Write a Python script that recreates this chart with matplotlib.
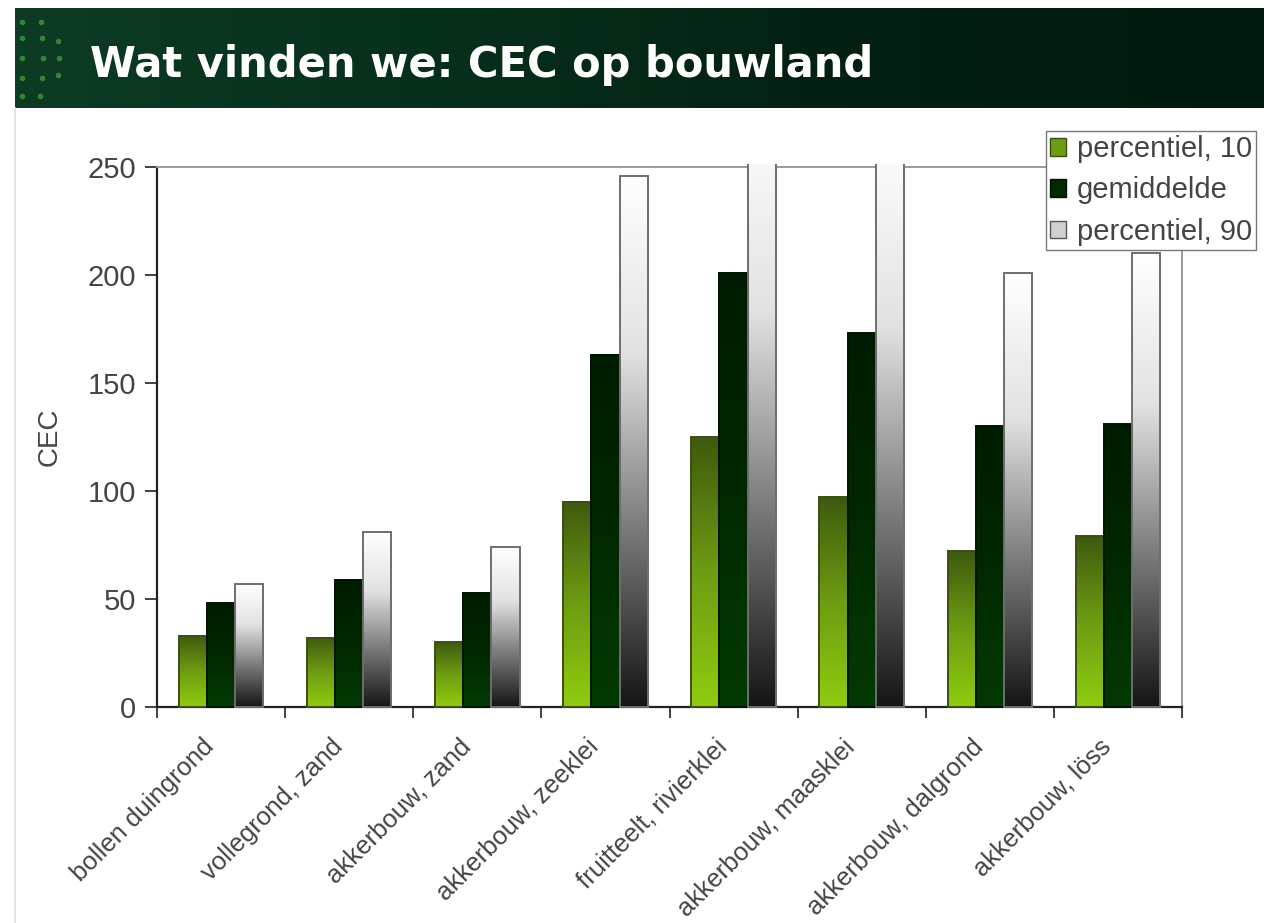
import numpy as np
import matplotlib
matplotlib.use("Agg")
import matplotlib.pyplot as plt
from matplotlib.colors import LinearSegmentedColormap
from matplotlib.patches import Patch
from matplotlib.lines import Line2D
from matplotlib.transforms import ScaledTranslation, Bbox, TransformedBbox


# data
categories = [
    "bollen duingrond",
    "vollegrond, zand",
    "akkerbouw, zand",
    "akkerbouw, zeeklei",
    "fruitteelt, rivierklei",
    "akkerbouw, maasklei",
    "akkerbouw, dalgrond",
    "akkerbouw, löss",
]
p10 = [33, 32, 30, 95, 125, 97, 72, 79]
mean = [48, 59, 53, 163, 201, 173, 130, 131]
p90 = [57, 81, 74, 246, 275, 265, 201, 210]  # two bars run off the top of the axis

series_names = ["percentiel, 10", "gemiddelde", "percentiel, 90"]
y_ticks = [0, 50, 100, 150, 200, 250]

plt.rcParams["font.family"] = ["Liberation Sans", "DejaVu Sans"]

W, H = 1264, 923
fig = plt.figure(figsize=(W / 100, H / 100), dpi=100)
fig.patch.set_facecolor("white")

# header band of the slide
head = fig.add_axes([15 / W, 1 - 108 / H, 1 - 15 / W, 100 / H])
head.axis("off")
band = LinearSegmentedColormap.from_list("band", ["#0d3b24", "#07301c", "#032012", "#021a0e"])
head.imshow(np.linspace(0, 1, 256).reshape(1, -1), cmap=band, aspect="auto",
            extent=[0, 1, 0, 1], origin="lower")
head.set_xlim(0, 1)
head.set_ylim(0, 1)
dot_x = np.array([7, 26, 7, 27, 43, 7, 28, 44, 7, 27, 43, 7, 25]) / (W - 15)
dot_y = 1 - (np.array([14, 14, 30, 30, 33, 50, 50, 50, 70, 70, 67, 88, 88])) / 100
head.scatter(dot_x, dot_y, s=16, color="#3f9a3a", alpha=0.8, linewidths=0)
head.text(75 / (W - 15), 0.43, "Wat vinden we: CEC op bouwland", color="white",
          fontsize=30, fontweight="bold", family=["DejaVu Sans"], va="center", ha="left")

# faint slide border on the left
fig.add_artist(Line2D([15 / W, 15 / W], [0, 1 - 108 / H], color="#dddddd", lw=1.2))

ax = fig.add_axes([157 / W, 1 - 707 / H, (1182 - 157) / W, (707 - 167) / H])

x = np.arange(len(categories))
bw = 0.22

green_map = LinearSegmentedColormap.from_list("g", ["#90cc10", "#6e9c12", "#3e5a0e"])
dark_map = LinearSegmentedColormap.from_list("d", ["#033a03", "#012801", "#001c00"])
grey_map = LinearSegmentedColormap.from_list("w", ["#151515", "#7a7a7a", "#e2e2e2", "#ffffff"])

# bars may poke a hair above 250 so they hide the top frame line, like the slide
clip = TransformedBbox(Bbox([[-0.5, -5], [len(categories) - 0.5, 251.2]]), ax.transData)


def gradient_bars(ax, xs, vals, cmap, edge):
    bars = ax.bar(xs, vals, width=bw, facecolor="none", edgecolor=edge,
                  linewidth=1.4, zorder=3)
    grad = np.linspace(0, 1, 256).reshape(-1, 1)
    for bar in bars:
        bar.set_clip_box(clip)
        x0, y0 = bar.get_xy()
        im = ax.imshow(grad, extent=[x0, x0 + bar.get_width(), y0, y0 + bar.get_height()],
                       origin="lower", aspect="auto", cmap=cmap, zorder=2.9)
        im.set_clip_path(bar)
        im.set_clip_box(clip)
    return bars


gradient_bars(ax, x - bw, p10, green_map, "#3c4e12")
gradient_bars(ax, x, mean, dark_map, "#001400")
gradient_bars(ax, x + bw, p90, grey_map, "#6e6e6e")

ax.set_xlim(-0.5, len(categories) - 0.5)
ax.set_ylim(0, 250)
ax.set_yticks(y_ticks)
ax.set_yticklabels([str(v) for v in y_ticks], fontsize=21, color="#444444")
ax.tick_params(axis="y", direction="out", length=9, width=1.3, color="#333333", pad=6)

ax.set_xticks(np.arange(len(categories) + 1) - 0.5)
ax.set_xticklabels([])
ax.set_xticks(x, minor=True)
ax.set_xticklabels(categories, minor=True, rotation=45, ha="right", va="top",
                   rotation_mode="anchor", fontsize=18.5, color="#444444")
ax.tick_params(axis="x", which="major", direction="out", length=8, width=1.3, color="#333333")
ax.tick_params(axis="x", which="minor", length=0, pad=14)
shift = ScaledTranslation(-0.19, -0.08, fig.dpi_scale_trans)
for lab in ax.get_xticklabels(minor=True):
    lab.set_transform(lab.get_transform() + shift)

ax.set_ylabel("CEC", fontsize=20, color="#444444", labelpad=18)

for side in ["left", "bottom"]:
    ax.spines[side].set_color("#222222")
    ax.spines[side].set_linewidth(1.6)
for side in ["top", "right"]:
    ax.spines[side].set_color("#9a9a9a")
    ax.spines[side].set_linewidth(1.4)

handles = [
    Patch(facecolor="#6e9c12", edgecolor="#3c4e12"),
    Patch(facecolor="#012801", edgecolor="#001400"),
    Patch(facecolor="#d0d0d0", edgecolor="#555555"),
]
fig.legend(handles, series_names, loc="upper left",
           bbox_to_anchor=(1046 / W, 1 - 131 / H), fontsize=21,
           frameon=True, fancybox=False, edgecolor="#777777", framealpha=1,
           handlelength=0.55, handleheight=0.55, handletextpad=0.35,
           labelspacing=0.45, borderpad=0.15, borderaxespad=0,
           labelcolor="#444444")

fig.savefig("out.png", dpi=100)
